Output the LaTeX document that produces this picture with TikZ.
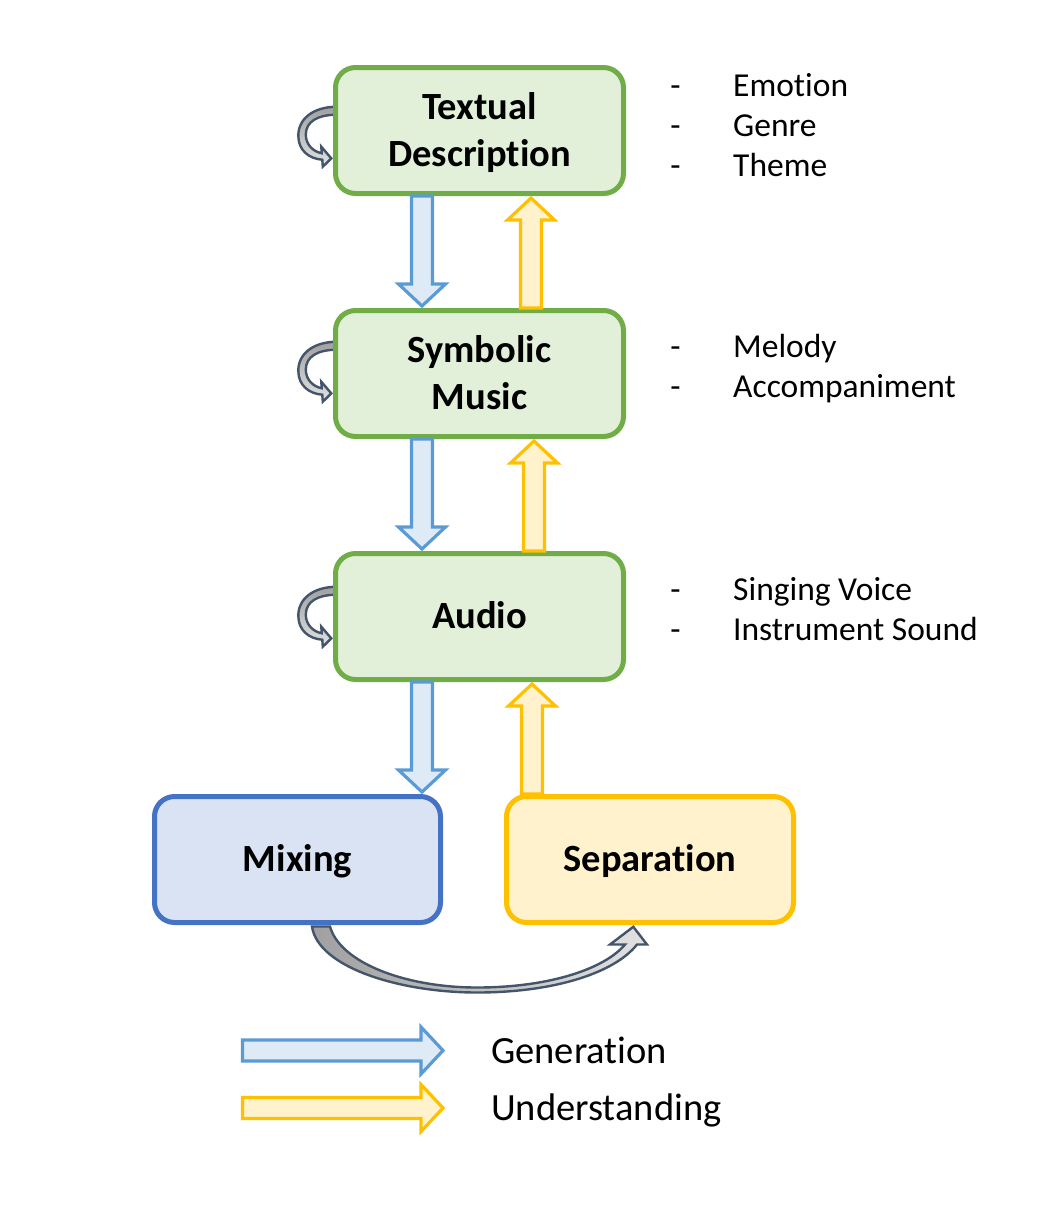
\documentclass[tikz,border=0pt]{standalone}
\usepackage{fontspec}
\setmainfont{Carlito}[Ligatures=NoCommon]
\usetikzlibrary{calc}
\definecolor{grnB}{HTML}{70AD47}
\definecolor{grnF}{HTML}{E2F0D9}
\definecolor{bluB}{HTML}{4472C4}
\definecolor{bluF}{HTML}{DAE3F3}
\definecolor{yelB}{HTML}{FFC000}
\definecolor{yelF}{HTML}{FFF2CC}
\definecolor{arrB}{HTML}{5B9BD5}
\definecolor{arrF}{HTML}{DEEBF7}
\definecolor{loopB}{HTML}{44546A}
\definecolor{loopD}{HTML}{A0A0A0}
\definecolor{loopL}{HTML}{E2E2E2}
\newcommand\blockarr[3]{%
  \draw[#1] let \p1=(#2), \p2=(#3), \n1={veclen(\x2-\x1,\y2-\y1)},
      \n2={(\x2-\x1)/\n1}, \n3={(\y2-\y1)/\n1} in
    ({\x1-10.5pt*\n3},{\y1+10.5pt*\n2}) --
    ({\x2-22pt*\n2-10.5pt*\n3},{\y2-22pt*\n3+10.5pt*\n2}) --
    ({\x2-22pt*\n2-23.5pt*\n3},{\y2-22pt*\n3+23.5pt*\n2}) --
    (\x2,\y2) --
    ({\x2-22pt*\n2+23.5pt*\n3},{\y2-22pt*\n3-23.5pt*\n2}) --
    ({\x2-22pt*\n2+10.5pt*\n3},{\y2-22pt*\n3-10.5pt*\n2}) --
    ({\x1+10.5pt*\n3},{\y1-10.5pt*\n2}) -- cycle;}
\newcommand\myloop[2]{%
  \begin{scope}[shift={($(#1.west)+(0,#2)$)}]
    \draw[loopstyle] (2,0) .. controls (-22,0) and (-37,12) .. (-37,29)
      .. controls (-37,44) and (-26,52) .. (-13,53) -- (-12.5,60) -- (-4,51.7)
      -- (-14,40) -- (-13.6,46.5) .. controls (-22,45) and (-29.5,38) .. (-29.5,28)
      .. controls (-29.5,15) and (-18,8) .. (2,8) -- cycle;
  \end{scope}}
\begin{document}
\begin{tikzpicture}[x=1pt,y=-1pt,
  basebox/.style={line width=5pt, rounded corners=20pt, minimum width=288pt,
    minimum height=126pt, inner sep=0pt, align=center,
    font=\fontsize{38.5}{47}\selectfont\bfseries},
  lvlbox/.style={basebox, draw=grnB, fill=grnF},
  mixbox/.style={basebox, draw=bluB, fill=bluF, minimum width=286pt},
  sepbox/.style={basebox, draw=yelB, fill=yelF, minimum width=287pt},
  genarr/.style={draw=arrB, fill=arrF, line width=3.2pt},
  undarr/.style={draw=yelB, fill=yelF, line width=3.2pt},
  loopstyle/.style={draw=loopB, line width=2.4pt, top color=loopD, bottom color=loopL},
  arcstyle/.style={draw=loopB, line width=2.4pt, left color=loopD, right color=loopL},
  sidetxt/.style={font=\fontsize{33.5}{40}\selectfont, inner sep=0pt, anchor=base west},
  dashtxt/.style={font=\fontsize{33.5}{40}\selectfont, inner sep=0pt, anchor=base},
  legtxt/.style={font=\fontsize{38.5}{47}\selectfont, inner sep=0pt, anchor=base west}]
\useasboundingbox (0,0) rectangle (1063,1213);

% coordinates for box centres
\coordinate (ctd) at (479.5,130.5);
\coordinate (csm) at (479.5,373.5);
\coordinate (cau) at (479.5,616.5);
\coordinate (cmx) at (297.5,859.5);
\coordinate (csp) at (650,859.5);

% invisible anchors for loops (placed first so boxes cover the ends)
\path (ctd) node[minimum width=288pt, minimum height=126pt, inner sep=0pt] (tdg) {};
\path (csm) node[minimum width=288pt, minimum height=126pt, inner sep=0pt] (smg) {};
\path (cau) node[minimum width=288pt, minimum height=126pt, inner sep=0pt] (aug) {};
\myloop{tdg}{-23.8}
\myloop{smg}{-31.8}
\myloop{aug}{-29.8}

% boxes
\node[lvlbox] (td) at (ctd) {\rule{0pt}{24.3pt}\smash{Textual}\\\smash{Description}};
\node[lvlbox] (sm) at (csm) {\rule{0pt}{24.3pt}\smash{Symbolic}\\\smash{Music}};
\node[lvlbox] (au) at (cau) {\rule{0pt}{24.3pt}\smash{Audio}};
\node[mixbox] (mx) at (cmx) {\rule{0pt}{24.3pt}\smash{Mixing}};
\node[sepbox] (sp) at (csp) {\rule{0pt}{24.3pt}\smash{Separation}};

% block arrows
\coordinate (d1a) at ($(td.south)+(-57.5,0)$);
\coordinate (d1b) at ($(sm.north)+(-57.5,-2)$);
\coordinate (u1a) at ($(sm.north)+(51.5,0)$);
\coordinate (u1b) at ($(td.south)+(51.5,2)$);
\coordinate (d2a) at ($(sm.south)+(-57.5,0)$);
\coordinate (d2b) at ($(au.north)+(-57.5,-2)$);
\coordinate (u2a) at ($(au.north)+(54.5,0)$);
\coordinate (u2b) at ($(sm.south)+(54.5,2)$);
\coordinate (d3a) at ($(au.south)+(-57.5,0)$);
\coordinate (d3m) at (d3a |- mx.north);
\coordinate (d3b) at ($(d3m)+(0,-2)$);
\coordinate (u3x) at ($(au.south)+(52.5,0)$);
\coordinate (u3a) at (u3x |- sp.north);
\coordinate (u3b) at ($(au.south)+(52.5,2)$);
\blockarr{genarr}{d1a}{d1b}
\blockarr{undarr}{u1a}{u1b}
\blockarr{genarr}{d2a}{d2b}
\blockarr{undarr}{u2a}{u2b}
\blockarr{genarr}{d3a}{d3b}
\blockarr{undarr}{u3a}{u3b}

% curved arrow from Mixing to Separation
\begin{scope}[shift={(mx.south)}]
  \draw[arcstyle] (14.5,1.5) .. controls (20.5,42.5) and (102.5,67.5) .. (179.5,67.5)
    .. controls (257.5,67.5) and (317.5,47.5) .. (339.5,19.5) -- (349.5,19.5)
    -- (335.8,1.8) -- (312.5,19.5) -- (327.5,19.5)
    .. controls (307.5,43.5) and (252.5,62.5) .. (179.5,62.5)
    .. controls (107.5,62.5) and (42.5,37.5) .. (32.5,1.5) -- cycle;
\end{scope}

% side lists
\node[dashtxt] (e1d) at (675.5,96.5) {-};
\node[sidetxt] (e1) at (733,96.5) {Emotion};
\node[dashtxt] (e2d) at (675.5,136.5) {-};
\node[sidetxt] (e2) at (733,136.5) {Genre};
\node[dashtxt] (e3d) at (675.5,176.5) {-};
\node[sidetxt] (e3) at (733,176.5) {Theme};
\node[dashtxt] (m1d) at (675.5,357.5) {-};
\node[sidetxt] (m1) at (733,357.5) {Melody};
\node[dashtxt] (m2d) at (675.5,397.5) {-};
\node[sidetxt] (m2) at (733,397.5) {Accompaniment};
\node[dashtxt] (a1d) at (675.5,600.5) {-};
\node[sidetxt] (a1) at (733,600.5) {Singing Voice};
\node[dashtxt] (a2d) at (675.5,640.5) {-};
\node[sidetxt] (a2) at (733,640.5) {Instrument Sound};

% legend
\coordinate (lg1a) at (242.5,1050.5);
\coordinate (lg1b) at (443,1050.5);
\coordinate (lg2a) at (242.5,1108);
\coordinate (lg2b) at (443,1108);
\blockarr{genarr}{lg1a}{lg1b}
\blockarr{undarr}{lg2a}{lg2b}
\node[legtxt] (lg1) at (491,1063) {Generation};
\node[legtxt] (lg2) at (491,1120) {Understanding};
\end{tikzpicture}
\end{document}
